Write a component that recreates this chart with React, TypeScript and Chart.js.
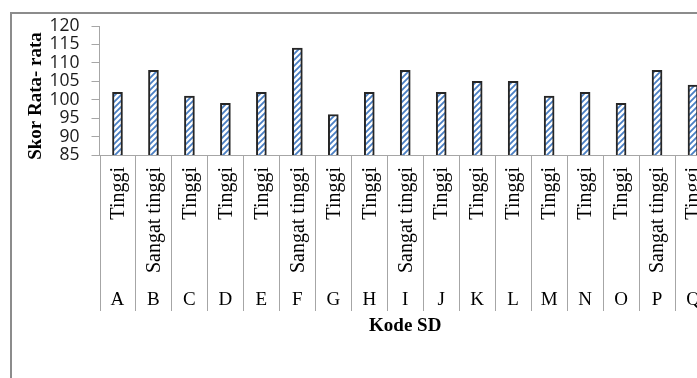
import React, { useEffect, useRef } from "react";
import { Chart, registerables } from "chart.js";

Chart.register(...registerables);

// School codes, achievement level per school and mean score
const codes = ["A", "B", "C", "D", "E", "F", "G", "H", "I", "J", "K", "L", "M", "N", "O", "P", "Q"];
const levels = [
  "Tinggi", "Sangat tinggi", "Tinggi", "Tinggi", "Tinggi", "Sangat tinggi", "Tinggi", "Tinggi",
  "Sangat tinggi", "Tinggi", "Tinggi", "Tinggi", "Tinggi", "Tinggi", "Tinggi", "Sangat tinggi", "Tinggi",
];
const scores = [102, 108, 101, 99, 102, 114, 96, 102, 108, 102, 105, 105, 101, 102, 99, 108, 104];
const yTicks = { min: 85, max: 120, step: 5 };
const yTitle = "Skor Rata- rata";
const xTitle = "Kode SD";

const SERIF = "'Liberation Serif', 'Times New Roman', serif";
const SANS = "'Open Sans', 'Liberation Sans', sans-serif";

function makeHatch(): CanvasPattern | string {
  const s = 6;
  const c = document.createElement("canvas");
  c.width = s;
  c.height = s;
  const g = c.getContext("2d");
  if (!g) return "#4f81bd";
  g.fillStyle = "#ffffff";
  g.fillRect(0, 0, s, s);
  g.strokeStyle = "#4a7fc4";
  g.lineWidth = 1.8;
  g.beginPath();
  g.moveTo(0, s);
  g.lineTo(s, 0);
  g.moveTo(-1, 1);
  g.lineTo(1, -1);
  g.moveTo(s - 1, s + 1);
  g.lineTo(s + 1, s - 1);
  g.stroke();
  const p = g.createPattern(c, "repeat");
  return p || "#4f81bd";
}

const frameAndLabels = {
  id: "frameAndLabels",
  beforeDraw(chart: any) {
    const ctx = chart.ctx;
    ctx.save();
    ctx.fillStyle = "#ffffff";
    ctx.fillRect(0, 0, chart.width, chart.height);
    ctx.strokeStyle = "#8c8c8c";
    ctx.lineWidth = 2;
    ctx.strokeRect(11, 13, chart.width + 40, chart.height + 40);
    ctx.restore();
  },
  afterDraw(chart: any) {
    const ctx = chart.ctx;
    const x = chart.scales.x;
    const area = chart.chartArea;
    const n = codes.length;
    const step = (area.right - area.left) / n;
    ctx.save();

    // category separators below the axis
    ctx.strokeStyle = "#a6a6a6";
    ctx.lineWidth = 1;
    for (let i = 0; i <= n; i++) {
      const px = Math.round(area.left + i * step) + 0.5;
      ctx.beginPath();
      ctx.moveTo(px, area.bottom);
      ctx.lineTo(px, 311);
      ctx.stroke();
    }

    ctx.fillStyle = "#000000";
    // rotated level labels
    ctx.font = `20px ${SERIF}`;
    for (let i = 0; i < n; i++) {
      const cx = x.getPixelForValue(i);
      ctx.save();
      ctx.translate(cx, 167);
      ctx.rotate(-Math.PI / 2);
      ctx.textAlign = "right";
      ctx.textBaseline = "middle";
      ctx.fillText(levels[i], 0, 1);
      ctx.restore();
    }

    // school codes
    ctx.font = `19px ${SERIF}`;
    ctx.textAlign = "center";
    ctx.textBaseline = "alphabetic";
    for (let i = 0; i < n; i++) {
      ctx.fillText(codes[i], x.getPixelForValue(i), 305);
    }

    // axis titles
    ctx.font = `bold 19px ${SERIF}`;
    ctx.fillText(xTitle, (area.left + area.right) / 2, 331);

    ctx.save();
    ctx.translate(41, 96);
    ctx.rotate(-Math.PI / 2);
    ctx.textAlign = "center";
    ctx.textBaseline = "alphabetic";
    ctx.fillText(yTitle, 0, 0);
    ctx.restore();

    ctx.restore();
  },
};

export default function App() {
  const ref = useRef<HTMLCanvasElement | null>(null);

  useEffect(() => {
    const canvas = ref.current;
    if (!canvas) return;
    const chart = new Chart(canvas, {
      type: "bar",
      data: {
        labels: codes,
        datasets: [
          {
            data: scores,
            backgroundColor: makeHatch() as any,
            borderColor: "#262626",
            borderWidth: 2,
            borderSkipped: false,
            barThickness: 10,
          },
        ],
      },
      options: {
        responsive: false,
        animation: false,
        events: [],
        layout: { padding: { left: 0, top: 26, right: 29, bottom: 0 } },
        plugins: { legend: { display: false }, tooltip: { enabled: false }, title: { display: false } },
        scales: {
          x: {
            type: "category",
            offset: true,
            ticks: { display: false },
            grid: { display: false },
            border: { display: true, color: "#a6a6a6", width: 1 },
            afterFit(scale: any) {
              scale.height = 378 - 155;
            },
          },
          y: {
            min: yTicks.min,
            max: yTicks.max,
            ticks: {
              stepSize: yTicks.step,
              autoSkip: false,
              padding: 12,
              color: "#1a1a1a",
              font: { family: SANS, size: 17.5 },
            },
            grid: { drawOnChartArea: false, drawTicks: true, tickLength: 8, color: "#a6a6a6" },
            border: { display: true, color: "#a6a6a6", width: 1 },
            afterFit(scale: any) {
              scale.width = 99.5;
            },
          },
        },
      },
      plugins: [frameAndLabels],
    });
    return () => chart.destroy();
  }, []);

  return (
    <div
      style={{
        position: "fixed",
        left: 0,
        top: 0,
        width: 697,
        height: 378,
        overflow: "hidden",
        background: "#ffffff",
      }}
    >
      <canvas ref={ref} width={740} height={378} style={{ display: "block" }} />
    </div>
  );
}
